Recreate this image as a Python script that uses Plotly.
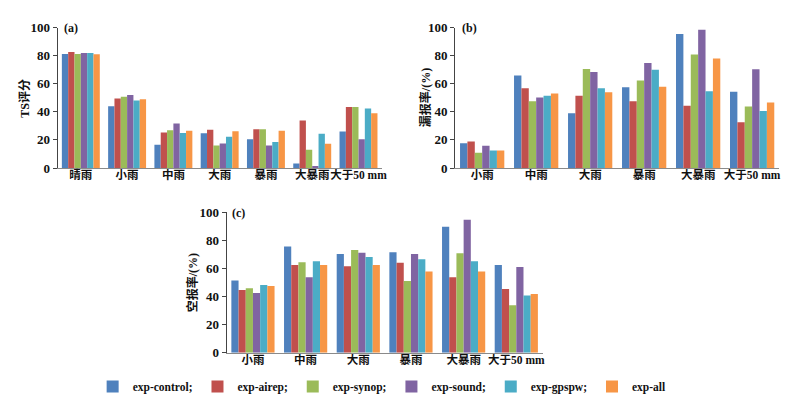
import plotly.graph_objects as go

series_names = ["exp-control;", "exp-airep;", "exp-synop;", "exp-sound;", "exp-gpspw;", "exp-all"]
colors = ["#4F81BD", "#C0504D", "#9BBB59", "#8064A2", "#4BACC6", "#F79646"]

cats_a = ["晴雨", "小雨", "中雨", "大雨", "暴雨", "大暴雨", "大于50 mm"]
cats_bc = ["小雨", "中雨", "大雨", "暴雨", "大暴雨", "大于50 mm"]

ts_control = [81.2, 43.9, 16.5, 24.7, 20.4, 3.2, 25.9]
ts_airep   = [82.6, 49.4, 25.2, 27.2, 27.5, 33.9, 43.5]
ts_synop   = [81.2, 50.8, 26.8, 16.0, 27.5, 13.0, 43.5]
ts_sound   = [81.9, 51.9, 31.6, 17.4, 16.0, 1.4, 20.4]
ts_gpspw   = [81.9, 48.0, 25.0, 22.2, 18.5, 24.3, 42.3]
ts_all     = [81.0, 49.0, 26.5, 26.1, 26.5, 17.2, 38.9]

miss_control = [17.6, 65.9, 38.9, 57.4, 95.4, 54.2]
miss_airep   = [18.8, 56.8, 51.5, 47.6, 44.4, 32.5]
miss_synop   = [10.8, 47.6, 70.5, 62.2, 80.8, 43.7]
miss_sound   = [15.8, 50.1, 68.4, 74.8, 98.4, 70.3]
miss_gpspw   = [12.4, 51.5, 56.8, 70.0, 54.7, 40.5]
miss_all     = [12.4, 53.1, 54.0, 57.9, 78.0, 46.7]

far_control = [51.5, 75.7, 70.3, 71.6, 89.7, 62.5]
far_airep   = [44.6, 62.5, 61.6, 64.1, 53.8, 45.3]
far_synop   = [46.0, 64.5, 73.2, 51.0, 70.9, 33.9]
far_sound   = [42.6, 53.8, 71.2, 70.3, 94.7, 61.1]
far_gpspw   = [48.3, 65.2, 68.2, 66.6, 65.2, 40.7]
far_all     = [47.6, 62.5, 62.5, 57.9, 57.9, 41.9]

ts = [ts_control, ts_airep, ts_synop, ts_sound, ts_gpspw, ts_all]
miss = [miss_control, miss_airep, miss_synop, miss_sound, miss_gpspw, miss_all]
far = [far_control, far_airep, far_synop, far_sound, far_gpspw, far_all]

FONT = "Liberation Serif, Noto Sans CJK SC, serif"

fig = go.Figure()
for i, name in enumerate(series_names):
    fig.add_trace(go.Bar(x=cats_a, y=ts[i], name=name, marker_color=colors[i],
                         marker_line_width=0, xaxis="x", yaxis="y", showlegend=False))
    fig.add_trace(go.Bar(x=cats_bc, y=miss[i], name=name, marker_color=colors[i],
                         marker_line_width=0, xaxis="x2", yaxis="y2", showlegend=False))
    fig.add_trace(go.Bar(x=cats_bc, y=far[i], name=name, marker_color=colors[i],
                         marker_line_width=0, xaxis="x3", yaxis="y3", showlegend=True))

W, H = 798, 398
def px(x0, x1):
    return [x0 / W, x1 / W]
def py(top, bottom):
    return [1 - bottom / H, 1 - top / H]

xcommon = dict(showline=True, linecolor="#8a8a8a", linewidth=1, ticks="", tickangle=0,
               ticklabelstandoff=-4,
               tickfont=dict(family=FONT, size=11.5, color="#111111", weight="bold"), showgrid=False)
ycommon = dict(range=[0, 100], dtick=20, showline=True, linecolor="#444444", linewidth=1,
               ticks="outside", ticklen=4, tickcolor="#444444", showgrid=False, zeroline=False,
               tickfont=dict(family=FONT, size=13, color="#111111", weight="bold"))

fig.update_layout(
    width=W, height=H,
    margin=dict(l=0, r=0, t=0, b=0),
    paper_bgcolor="white", plot_bgcolor="white",
    barmode="group", bargap=0.18, bargroupgap=0,
    font=dict(family=FONT, size=12, color="#111111"),
    xaxis=dict(domain=px(50, 376), anchor="y", **xcommon),
    yaxis=dict(domain=py(13, 159), anchor="x", **ycommon),
    xaxis2=dict(domain=px(450, 776), anchor="y2", **xcommon),
    yaxis2=dict(domain=py(13, 159), anchor="x2", **ycommon),
    xaxis3=dict(domain=px(220, 538), anchor="y3", **xcommon),
    yaxis3=dict(domain=py(205, 351), anchor="x3", **ycommon),
    legend=dict(orientation="h", x=376 / W, y=1 - 386 / H, xanchor="center", yanchor="middle",
                font=dict(family=FONT, size=11.5, color="#111111", weight="bold"),
                itemwidth=30, tracegroupgap=0, bgcolor="rgba(0,0,0,0)"),
)

ann = [
    dict(text="<b>(a)</b>", x=54 / W, y=1 - 14 / H),
    dict(text="<b>(b)</b>", x=455 / W, y=1 - 14 / H),
    dict(text="<b>(c)</b>", x=223 / W, y=1 - 206 / H),
]
for a in ann:
    fig.add_annotation(xref="paper", yref="paper", x=a["x"], y=a["y"], text=a["text"],
                       showarrow=False, xanchor="left", yanchor="middle",
                       font=dict(family=FONT, size=12, color="#111111"))

titles = [
    ("<b>TS评分</b>", 17, 86),
    ("<b>漏报率/(%)</b>", 420, 86),
    ("<b>空报率/(%)</b>", 186, 278),
]
for t, x, y in titles:
    fig.add_annotation(xref="paper", yref="paper", x=x / W, y=1 - y / H, text=t,
                       showarrow=False, textangle=-90, xanchor="center", yanchor="middle",
                       font=dict(family=FONT, size=12, color="#111111"))

fig.write_html("out.html")
